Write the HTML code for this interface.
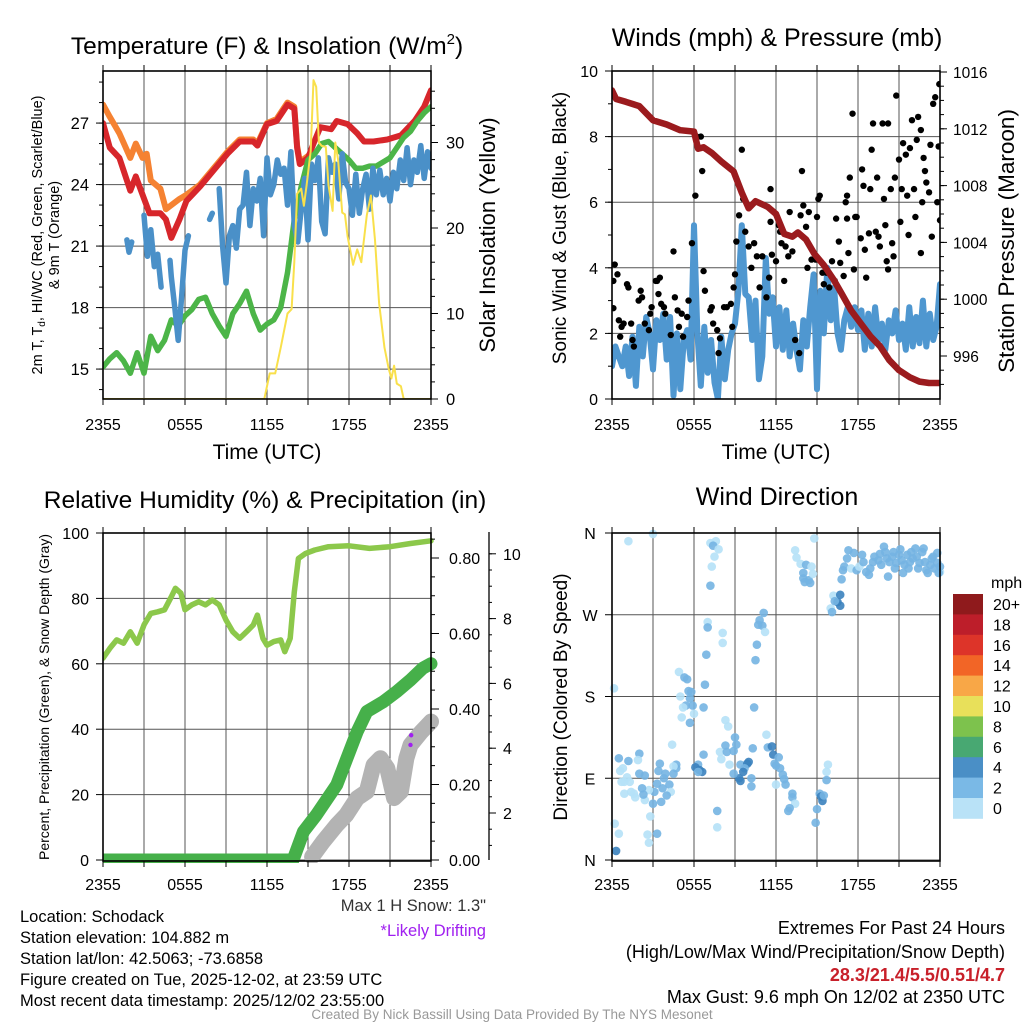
<!DOCTYPE html>
<html><head><meta charset="utf-8"><style>
html,body{margin:0;padding:0;background:#fff;}
svg{display:block;font-family:"Liberation Sans",Arial,sans-serif;}
</style></head><body>
<svg id="chart" width="1024" height="1024" viewBox="0 0 1024 1024">
<defs>
<clipPath id="c1"><rect x="103" y="71" width="328" height="328"/></clipPath>
<clipPath id="c2"><rect x="612" y="71" width="328" height="328"/></clipPath>
<clipPath id="c3"><rect x="103" y="533" width="340" height="330"/></clipPath>
<clipPath id="c4"><rect x="606" y="527" width="340" height="340"/></clipPath>
</defs>
<text x="267" y="54" font-size="24.5" text-anchor="middle">Temperature (F) &amp; Insolation (W/m<tspan font-size="15" dy="-10">2</tspan><tspan dy="10">)</tspan></text>
<text x="777" y="46" font-size="25" text-anchor="middle">Winds (mph) &amp; Pressure (mb)</text>
<text x="265" y="508" font-size="24.5" text-anchor="middle">Relative Humidity (%) &amp; Precipitation (in)</text>
<text x="777" y="505" font-size="25" text-anchor="middle">Wind Direction</text>

<text x="267" y="459" font-size="21" text-anchor="middle">Time (UTC)</text>
<text x="776" y="459" font-size="21" text-anchor="middle">Time (UTC)</text>

<text transform="translate(42,235) rotate(-90)" font-size="14.5" text-anchor="middle">2m T, T<tspan font-size="10" dy="3">d</tspan><tspan dy="-3">, HI/WC (Red, Green, Scarlet/Blue)</tspan></text>
<text transform="translate(59,235) rotate(-90)" font-size="14.5" text-anchor="middle">&amp; 9m T (Orange)</text>
<text transform="translate(495,235) rotate(-90)" font-size="22" text-anchor="middle">Solar Insolation (Yellow)</text>
<text transform="translate(566,228) rotate(-90)" font-size="19" text-anchor="middle">Sonic Wind &amp; Gust (Blue, Black)</text>
<text transform="translate(1014,241) rotate(-90)" font-size="22.5" text-anchor="middle">Station Pressure (Maroon)</text>
<text transform="translate(49,697) rotate(-90)" font-size="14" text-anchor="middle">Percent, Precipitation (Green), &amp; Snow Depth (Gray)</text>
<text transform="translate(567,697) rotate(-90)" font-size="19" text-anchor="middle">Direction (Colored By Speed)</text>

<text x="486" y="911" font-size="16.5" fill="#333" text-anchor="end">Max 1 H Snow: 1.3"</text>
<text x="486" y="936" font-size="16.5" fill="#a020f0" text-anchor="end">*Likely Drifting</text>

<g font-size="16.5">
<text x="20" y="922">Location: Schodack</text>
<text x="20" y="943">Station elevation: 104.882 m</text>
<text x="20" y="964">Station lat/lon: 42.5063; -73.6858</text>
<text x="20" y="985">Figure created on Tue, 2025-12-02, at 23:59 UTC</text>
<text x="20" y="1006">Most recent data timestamp: 2025/12/02 23:55:00</text>
</g>
<g font-size="18" text-anchor="end">
<text x="1005" y="934">Extremes For Past 24 Hours</text>
<text x="1005" y="958">(High/Low/Max Wind/Precipitation/Snow Depth)</text>
<text x="1005" y="981" fill="#c8202a" font-weight="bold">28.3/21.4/5.5/0.51/4.7</text>
<text x="1005" y="1003">Max Gust: 9.6 mph On 12/02 at 2350 UTC</text>
</g>
<text x="512" y="1019" font-size="13.5" fill="#999" text-anchor="middle">Created By Nick Bassill Using Data Provided By The NYS Mesonet</text>
<text x="991" y="588" font-size="16">mph</text>
</svg>
<script>
// ---------- Panel 1 data ----------
const redHours=[0,0.5,1.2,2,2.4,2.9,3.4,4.2,4.6,5,5.6,6.1,7.1,8.1,9.1,10,11,11.3,12,12.7,13.2,13.5,14,14.2,14.4,15,15.4,15.9,16.7,17.1,17.9,18.6,19.1,19.8,20.8,21.8,22.8,23.5,24];
const redTemp=[27.0,25.8,25.3,23.7,24.4,23.5,22.6,22.6,22.3,21.4,22.3,23.2,23.9,24.7,25.5,26.1,26.1,25.9,26.95,27.1,27.6,27.9,27.7,25.8,25.0,25.3,26.0,26.8,26.7,27.1,26.95,26.5,26.1,26.1,26.2,26.4,27.1,27.8,28.6];
const orangeHours=[0,0.5,1.2,2,2.4,2.9,3.2,3.5,4.2,4.6,5,5.6,6.1,7.1,8.1,9.1,10,11,11.3,12,12.7,13.2,13.5,14,14.2,14.4,15];
const orangeTemp=[27.9,27.3,26.5,25.3,26.0,25.3,25.5,24.2,23.8,22.8,23.0,23.3,23.5,24.0,24.8,25.6,26.2,26.2,26.0,27.0,27.2,27.7,28.0,27.8,25.9,25.1,25.4];
const greenHours=[0,0.5,1,1.5,2,2.5,3,3.5,4,4.5,5,5.5,6,6.5,7,7.5,8,8.5,9,9.5,10,10.5,11,11.5,12,12.5,13,13.5,14,14.5,15,15.5,16,16.5,17,17.5,18,18.5,19,19.5,20,20.5,21,21.5,22,22.5,23,23.5,24];
const greenTemp=[15.1,15.5,15.8,15.4,14.8,15.8,14.8,16.6,15.9,16.4,17.4,17.1,17.6,17.9,18.4,18.5,17.7,17.1,16.6,17.7,18.2,18.8,17.7,16.9,17.2,17.4,18.0,19.7,22.3,23.9,25.2,25.5,26.0,26.1,25.8,25.5,25.2,24.8,24.8,24.9,24.9,25.1,25.3,25.8,26.3,26.6,27.1,27.5,27.8];
const chillHours=[1.75,1.9,2.1,2.2,3.0,3.25,3.5,3.75,4.0,4.25,4.4,4.9,5.0,5.25,5.5,5.75,6.0,6.25,6.4,7.8,8.0,8.1,8.5,8.75,9.0,9.25,9.5,9.75,10,10.25,10.5,10.75,11.0,11.25,11.5,11.75,12.0,12.25,12.5,12.75,13.0,13.25,13.5,13.75,14,14.25,14.5,14.75,15,15.25,15.5,15.75,16,16.25,16.5,16.75,17,17.25,17.5,17.75,18,18.25,18.5,18.75,19.0,19.25,19.5,19.75,20,20.25,20.5,20.75,21,21.25,21.5,21.75,22,22.25,22.5,22.75,23,23.25,23.5,23.75,24];
const chillTemp=[21.3,20.7,21.2,null,22.5,20.5,21.8,20.0,20.6,19.0,null,20.3,19.5,18.0,16.4,18.5,20.8,21.5,null,22.3,22.6,null,23.8,21.0,19.2,21.5,22.0,20.9,22.8,23.0,24.6,22.0,23.8,23.2,24.3,21.5,25.3,23.5,24.0,25.2,24.5,24.8,23.0,25.6,22.0,21.2,22.8,24.3,21.3,25.0,24.2,25.3,22.2,21.6,25.3,24.6,25.0,23.3,25.5,24.1,23.8,22.5,24.5,22.6,23.8,24.5,22.8,24.8,23.5,24.7,23.5,24.3,23.2,24.6,23.8,25.2,24.2,25.8,24.0,25.2,24.6,25.9,24.3,25.6,24.8];
const solarHours=[0,11.8,12.2,12.6,13,13.5,13.8,14,14.2,14.5,14.7,14.9,15.2,15.4,15.6,15.8,16,16.3,16.5,16.8,17.0,17.2,17.5,17.7,17.9,18.3,18.6,18.9,19.3,19.6,19.9,20.2,20.6,20.9,21.1,21.3,21.5,21.8,22,24];
const solarVals=[0,0,3,3,6,10,10.5,16,24,24.6,22.6,25,29,37.3,36.5,30,29.6,29.5,25,22,30,28,21.8,21.6,19,15.7,17.5,16,21.5,23.8,18.6,11.2,6,3.6,2.4,3.9,1.8,1.5,0,0];
const tempTicks=[15,18,21,24,27];
const solarTicks=[0,10,20,30];
const timeTickLabels=["2355","0555","1155","1755","2355"];
// ---------- Panel 2 data ----------
const sonicWind=[1.0,1.6,1.3,1.0,1.6,0.7,1.9,0.4,2.2,1.3,2.5,2.0,0.9,2.4,1.8,2.6,1.2,2.5,0.1,2.0,0.3,1.8,2.1,1.2,5.3,2.0,0.4,2.2,0.8,1.8,0.5,0.0,1.9,0.6,1.5,2.0,2.3,3.3,5.3,3.2,3.1,1.8,3.0,0.6,1.3,4.3,2.6,3.1,1.6,2.8,1.5,2.7,1.3,2.3,1.5,0.9,2.4,1.6,2.8,3.8,0.3,3.3,2.0,4.0,2.4,3.4,2.0,1.5,2.4,2.8,2.2,2.8,2.1,2.7,1.5,2.6,1.6,2.8,1.8,2.3,1.5,2.4,2.0,2.7,1.8,2.3,1.5,2.8,1.6,2.5,1.7,3.0,1.6,2.6,1.8,2.2,3.5];
const gustHours=[0.1,0.1,0.2,0.4,0.5,0.6,0.7,0.85,1.1,1.2,1.4,1.5,1.6,1.95,2.1,2.2,2.4,2.7,2.8,2.9,3.2,3.3,3.4,3.5,3.6,3.8,3.9,4.3,4.5,4.6,4.8,4.9,5.1,5.2,5.5,5.6,5.85,6.1,6.2,6.5,6.6,6.7,6.8,7.2,7.3,7.4,7.7,7.8,7.9,8.2,8.4,8.7,8.8,8.9,9.0,9.1,9.3,9.5,9.6,9.75,10.0,10.2,10.4,10.6,10.8,11.0,11.3,11.5,11.6,11.6,11.7,12.0,12.2,12.3,12.4,12.6,12.7,12.9,13.0,13.2,13.4,13.7,13.8,13.9,14.0,14.2,14.3,14.4,14.6,14.9,15.0,15.1,15.2,15.4,15.5,15.7,15.9,16.1,16.3,16.4,16.6,16.7,16.95,17.1,17.2,17.2,17.3,17.4,17.6,17.7,17.8,17.9,18.2,18.3,18.4,18.5,18.6,18.8,18.9,19.0,19.1,19.3,19.4,19.5,19.6,19.8,19.9,20.0,20.1,20.2,20.2,20.4,20.5,20.6,20.7,20.8,21.0,21.1,21.2,21.3,21.5,21.6,21.7,21.8,21.95,22.1,22.2,22.3,22.4,22.6,22.6,22.7,22.8,22.9,23.0,23.2,23.3,23.4,23.5,23.65,23.8,23.9,23.95,24.0];
const gustVals=[2.77,3.6,4.1,3.8,2.4,1.9,2.2,2.3,3.5,3.4,2.3,1.8,1.6,3.0,3.3,3.1,2.3,2.1,2.6,2.8,3.6,3.6,3.2,3.7,2.9,2.8,2.6,1.95,4.5,3.1,2.7,2.2,2.6,1.9,2.5,3.0,4.75,6.2,8.0,8.0,6.95,3.9,3.3,2.7,2.8,2.3,2.1,1.4,1.85,2.8,2.8,2.9,2.2,3.4,3.8,4.8,5.6,7.6,6.1,5.1,4.65,4.0,4.75,4.35,3.4,4.35,3.1,3.7,6.4,5.4,4.4,4.2,5.3,5.1,4.75,3.6,4.65,4.35,5.7,4.5,1.8,1.4,5.6,6.95,5.9,5.25,4.0,5.7,4.25,4.25,5.55,6.1,6.2,3.85,3.5,3.85,3.4,4.2,3.6,5.5,4.8,4.15,3.75,6.0,6.2,5.5,4.45,6.75,8.7,3.95,5.55,5.55,4.9,7.0,6.5,4.55,3.7,5.05,6.4,7.6,8.4,5.1,6.75,4.95,4.65,8.4,6.1,5.3,4.2,8.4,3.95,6.4,4.75,4.35,6.75,9.25,7.3,5.4,6.4,7.8,7.45,6.2,5.0,7.65,8.5,6.4,5.55,7.9,8.6,8.2,4.45,6.0,7.35,6.95,6.6,6.3,7.75,4.95,9.0,9.2,6.0,7.7,9.6,5.45];
const pressHours=[0,0.3,1,2,3,4,5,6,6.3,6.7,7.3,8,8.9,9.5,10,10.5,11.4,12,12.6,13.2,13.6,14.2,14.8,15.5,16.2,16.8,17.5,18.2,18.9,19.6,20.3,21,21.8,22.5,23.2,24];
const pressVals=[1014.7,1014.1,1013.9,1013.6,1012.6,1012.3,1011.9,1011.8,1010.6,1010.7,1010.3,1009.7,1009.0,1007.5,1006.4,1006.9,1006.5,1006.0,1004.6,1004.4,1004.7,1004.2,1003.2,1002.4,1001.4,1000.4,999.2,998.3,997.4,996.7,995.7,995.0,994.5,994.2,994.1,994.1];
const windTicks=[0,2,4,6,8,10];
const pressTicks=[996,1000,1004,1008,1012,1016];
// ---------- Panel 3 data ----------
const rhHours=[0,0.5,1,1.5,2,2.5,3,3.5,4,4.5,5,5.3,5.7,6,6.5,7,7.5,8,8.5,9,9.5,10,10.5,11,11.3,11.7,12,12.5,13,13.3,13.7,14,14.3,14.8,15.5,16.5,18,19.5,21,22.5,24];
const rhVals=[61.7,64.7,67.3,66.3,69.8,66.3,71.9,75.4,75.9,76.5,80.5,83.1,81.6,76.5,78.0,79,78,79.5,78,73.4,69.8,67.8,69.8,71.9,74.9,67.8,65.7,66.8,67.3,63.7,67.8,82.0,92.2,93.7,94.8,95.8,96.1,95.3,95.8,96.8,97.6];
const precipHours=[0,13.9,14.66,15.6,17.1,18.6,19.3,20.5,21.5,22.5,23.4,24];
const precipVals=[0,0,0.075,0.119,0.199,0.34,0.393,0.419,0.446,0.477,0.508,0.52];
const snowHours=[15.3,16.1,17.1,17.8,18.6,19.3,19.8,20.3,20.8,21.3,21.8,22.2,22.5,23.3,24];
const snowDepth=[0.65,1.11,1.63,1.94,2.46,2.66,3.48,3.69,3.38,2.46,2.66,3.69,4.1,4.51,4.82];
const driftHours=[22.5,22.55];
const driftDepth=[4.1,4.4];
const rhTicks=[0,20,40,60,80,100];
const precipTicks=[0,0.2,0.4,0.6,0.8];
const snowTicks=[2,4,6,8,10];
// ---------- Panel 4 data ----------
const dirHours=[1.2,3.0,7.2,7.6,7.4,7.8,7.5,7.3,7.2,7.0,7.0,8.1,8.1,6.9,4.9,5.3,5.5,5.6,5.8,5.0,5.7,5.4,5.9,5.2,6.0,5.1,5.7,6.8,6.7,0.15,8.3,8.5,9.0,8.3,7.9,8.4,8.9,9.1,6.7,8.0,8.6,9.4,9.9,10.0,9.7,9.6,9.3,9.4,8.9,10.2,10.2,10.3,10.4,10.5,10.6,10.7,10.8,11.0,11.1,11.2,11.3,11.4,11.7,11.8,12.2,11.9,12.0,12.3,12.5,12.6,12.7,12.0,13.2,13.2,13.4,13.0,12.9,6.3,6.1,6.4,6.6,6.3,4.7,4.7,4.5,4.5,4.4,4.2,4.3,3.9,3.8,3.7,4.0,3.6,3.5,3.4,3.3,3.1,3.0,2.8,2.6,2.7,3.3,2.7,2.4,2.3,2.2,2.0,2.4,2.0,1.9,1.6,1.7,1.4,1.3,1.1,0.9,0.9,0.8,0.6,1.2,0.5,0.7,0.2,0.5,0.3,7.7,7.7,13.4,13.5,13.8,14.2,14.6,14.0,14.0,14.4,14.1,14.5,14.8,14.7,15.8,15.7,15.7,15.2,15.3,15.4,15.5,15.0,14.9,16.0,16.1,16.2,16.5,16.7,16.7,16.3,16.8,16.9,17.0,17.2,17.3,17.7,17.5,17.9,18.1,18.3,18.4,18.6,18.8,18.9,19.1,19.2,19.5,19.6,19.7,19.9,20.0,20.1,20.2,20.3,20.5,20.6,20.7,20.8,21.0,21.1,21.2,21.3,21.4,21.6,21.7,21.8,21.9,22.0,22.2,22.3,22.4,22.5,22.7,22.8,22.9,23.0,23.1,23.3,23.4,23.5,23.6,23.8,23.8,24.0,24.0,23.9];
const dirDegs=[351,359,349,351,346,342,334,323,302,262,256,250,239,226,207,201,199,186,185,180,178,170,170,168,161,157,151,193,168,189,154,147,135,126,119,119,120,127,116,111,105,105,106,108,101,97,90,87,95,90,81,123,168,220,237,259,264,258,272,251,138,124,125,116,113,106,104,101,94,89,83,83,73,69,62,57,54,105,102,99,97,97,105,101,103,95,127,83,75,95,90,79,71,64,106,98,84,75,62,48,28,19,29,77,66,72,79,95,93,117,110,73,69,75,86,91,86,73,101,98,109,112,86,40,29,10,54,36,341,333,326,325,323,316,310,308,306,305,354,315,105,97,88,73,70,65,71,56,41,277,273,291,284,280,292,285,309,319,323,332,341,338,321,319,323,336,328,317,314,321,328,334,330,337,325,345,339,332,312,328,334,339,321,327,336,342,330,316,325,336,321,328,339,332,343,334,321,327,339,343,328,319,316,325,332,334,321,327,338,317,323,316];
const dirSpeeds=[1,1,1,1,3,1,1,1,3,1,3,1,1,3,1,3,3,3,3,1,3,3,3,1,1,1,3,3,3,1,1,1,3,3,1,3,3,3,3,1,1,3,5,5,3,5,5,5,3,3,3,3,3,3,3,3,3,3,3,1,1,3,5,5,3,3,3,3,3,3,3,1,3,3,1,3,3,3,5,5,5,3,3,3,1,3,1,3,1,3,3,3,3,3,3,3,3,3,3,1,1,1,3,1,1,3,3,3,3,3,1,1,1,1,1,1,1,1,1,1,3,3,1,1,1,5,3,1,1,1,1,3,1,3,3,3,3,3,1,1,1,1,3,3,5,5,3,3,3,1,3,1,5,5,5,3,3,3,3,3,3,3,1,3,1,3,3,3,3,3,3,3,3,3,3,3,3,3,3,3,3,3,3,3,3,3,3,3,3,3,3,3,3,3,3,3,3,3,3,3,3,3,3,3,3,3,3,3,3,1,3,3,3,3,3,5,3];
const dirTickLabels=["N","E","S","W","N"];
const cbLabels=["20+","18","16","14","12","10","8","6","4","2","0"];
const cbColors=["#8f1a1c","#bd1e2a","#dd3429","#f26526","#f8a747","#e8e05a","#7dc24d","#48a872","#4a8fc6","#7ab9e6","#b9e2f7"];

// ---------- helpers ----------
const svg=document.getElementById('chart');
const NS='http://www.w3.org/2000/svg';
function mk(tag,attrs,parent){const e=document.createElementNS(NS,tag);for(const k in attrs)e.setAttribute(k,attrs[k]);(parent||svg).appendChild(e);return e;}
function ptsStr(hs,vs,xf,yf){const out=[];for(let i=0;i<hs.length;i++){if(vs[i]===null||vs[i]===undefined)continue;out.push(xf(hs[i]).toFixed(1)+','+yf(vs[i]).toFixed(1));}return out.join(' ');}
function segs(hs,vs){const s=[];let cur=null;for(let i=0;i<hs.length;i++){if(vs[i]===null){cur=null;continue;}if(!cur){cur={h:[],v:[]};s.push(cur);}cur.h.push(hs[i]);cur.v.push(vs[i]);}return s;}

const xA=h=>103+h*328/24;
const xB=h=>612+h*328/24;
const yT=t=>399-(t-13.54)*20.5;
const yS=s=>399-s*8.55;
const yW=w=>399-w*32.8;
const yP=p=>356-(p-996)*14.2;
const yRH=r=>860-r*3.27;
const yPr=p=>860-p*377.5;
const ySn=d=>877.8-d*32.4;
const yD=d=>860-d*327/360;

function grid(x0,y0,hys,name){
  const g=mk('g',{stroke:'#555','stroke-width':1});
  
  
  for(let i=1;i<8;i++){mk('line',{x1:x0+i*41,y1:y0,x2:x0+i*41,y2:y0+328},g);}
  hys.forEach(y=>mk('line',{x1:x0,y1:y,x2:x0+328,y2:y},g));
}
function frame(x0,y0,name,labelY){
  const r=mk('rect',{x:x0,y:y0,width:328,height:328,fill:'none',stroke:'#000','stroke-width':1.6});
  
  
  const g=mk('g',{stroke:'#000','stroke-width':1});
  
  
  for(let i=0;i<=8;i++){const x=x0+i*41;mk('line',{x1:x,y1:y0-6,x2:x,y2:y0},g);mk('line',{x1:x,y1:y0+328,x2:x,y2:y0+334},g);}
  timeTickLabels.forEach((t,i)=>{
    const tx=mk('text',{x:x0+i*82,y:labelY,'font-size':16,'text-anchor':'middle'});
    
    
    tx.textContent=t;
  });
}
function yLabels(vals,yf,x,anchor,fmt,name,size){
  vals.forEach(v=>{
    const t=mk('text',{x:x,y:yf(v)+6,'font-size':size||16,'text-anchor':anchor});
    
    
    t.textContent=fmt(v);
  });
}
function ticks(x,vals,yf,dir,len,name){
  const g=mk('g',{stroke:'#000','stroke-width':1});
  
  
  vals.forEach(v=>mk('line',{x1:x,y1:yf(v),x2:x+dir*len,y2:yf(v)},g));
}
function line(hs,vs,xf,yf,color,w,clip,name,opacity){
  segs(hs,vs).forEach(s=>{
    const p=mk('polyline',{points:ptsStr(s.h,s.v,xf,yf),fill:'none',stroke:color,'stroke-width':w,'stroke-linejoin':'round','stroke-linecap':'round','clip-path':'url(#'+clip+')',opacity:opacity||1});
    
    
  });
}
const range=(a,b,s)=>{const r=[];for(let v=a;v<=b+1e-9;v+=s)r.push(+v.toFixed(3));return r;};

// ---------- Panel 1 ----------
grid(103,71,tempTicks.map(yT),'temperature');
line(orangeHours,orangeTemp,xA,yT,'#f58232',6,'c1','orange-9m-temp-line');
line(redHours,redTemp,xA,yT,'#d7262b',6,'c1','red-2m-temp-line');
line(greenHours,greenTemp,xA,yT,'#4cb548',5.5,'c1','green-dewpoint-line');
line(chillHours,chillTemp,xA,yT,'#4a90c8',5.5,'c1','blue-wind-chill-line');
line(solarHours,solarVals,xA,yS,'#f9e04b',2,'c1','yellow-insolation-line');
frame(103,71,'temperature',430);
ticks(103,range(14,29,1),yT,-1,4,'temp-left-minor-ticks');
ticks(103,tempTicks,yT,-1,7,'temp-left-ticks');
ticks(431,range(0,36,2),yS,1,4,'solar-right-minor-ticks');
ticks(431,solarTicks,yS,1,7,'solar-right-ticks');
yLabels(tempTicks,yT,89,'end',v=>v,'temp-y-tick-label',16.5);
yLabels(solarTicks,yS,446,'start',v=>v,'solar-y-tick-label',16.5);

// ---------- Panel 2 ----------
grid(612,71,windTicks.map(yW),'winds');
line(range(0,24,0.25),sonicWind,xB,yW,'#4f97d0',6,'c2','sonic-wind-line');
gustHours.forEach((h,i)=>{
  const c=mk('circle',{cx:xB(h),cy:yW(gustVals[i]),r:3.2,fill:'#000','clip-path':'url(#c2)'});
  
  
});
line(pressHours,pressVals,xB,yP,'#9b1b1e',6.5,'c2','pressure-line');
frame(612,71,'winds',430);
ticks(612,range(0,10,1),yW,-1,4,'wind-left-minor-ticks');
ticks(612,windTicks,yW,-1,7,'wind-left-ticks');
ticks(940,range(994,1016,1),yP,1,4,'pressure-minor-ticks');
ticks(940,pressTicks,yP,1,7,'pressure-ticks');
yLabels(windTicks,yW,598,'end',v=>v,'wind-y-tick-label',16);
yLabels(pressTicks,yP,953,'start',v=>v,'pressure-y-tick-label',15.5);

// ---------- Panel 3 ----------
grid(103,533,rhTicks.map(yRH),'humidity');
line(rhHours,rhVals,xA,yRH,'#8cc84b',5.5,'c3','relative-humidity-line');
line(snowHours,snowDepth,xA,ySn,'#b3b3b3',16,'c3','snow-depth-line');
line(precipHours,precipVals,xA,yPr,'#46b04a',13,'c3','precipitation-line');
driftHours.forEach((h,i)=>{
  const c=mk('circle',{cx:xA(h),cy:ySn(driftDepth[i]),r:2.2,fill:'#a020f0'});
  
  
});
frame(103,533,'humidity',890);
ticks(103,rhTicks,yRH,-1,7,'rh-left-ticks');
ticks(431,range(0,0.85,0.05),yPr,1,4,'precip-minor-ticks');
ticks(431,precipTicks,yPr,1,8,'precip-ticks');
yLabels(rhTicks,yRH,89,'end',v=>v,'rh-y-tick-label',16);
yLabels(precipTicks,yPr,449,'start',v=>v.toFixed(2),'precip-y-tick-label',16);
{const a=mk('line',{x1:489,y1:532,x2:489,y2:860,stroke:'#000','stroke-width':1.3});

}
ticks(489,range(1,10,0.5),ySn,1,3,'snow-minor-ticks');
ticks(489,snowTicks,ySn,1,7,'snow-ticks');
yLabels(snowTicks,ySn,503,'start',v=>v,'snow-y-tick-label',16);

// ---------- Panel 4 ----------
grid(612,533,[0,90,180,270,360].map(yD),'direction');
const spColor={1:'#b5e1f7',3:'#74b4e2',5:'#3b82be'};
dirHours.forEach((h,i)=>{
  const c=mk('circle',{cx:xB(h),cy:yD(dirDegs[i]),r:4.3,fill:spColor[dirSpeeds[i]],opacity:0.9,'clip-path':'url(#c4)'});
  
  
});
frame(612,533,'direction',890);
ticks(612,[0,90,180,270,360],yD,-1,7,'direction-ticks');
dirTickLabels.forEach((t,i)=>{
  const tx=mk('text',{x:590,y:yD(i*90)+6,'font-size':16,'text-anchor':'middle'});
  
  
  tx.textContent=t;
});
cbLabels.forEach((l,i)=>{
  const y=594+i*20.4;
  const r=mk('rect',{x:953,y:y,width:30,height:20.8,fill:cbColors[i]});
  
  
  const t=mk('text',{x:993,y:y+16,'font-size':16});
  
  
  t.textContent=l;
});
</script>
</body></html>
